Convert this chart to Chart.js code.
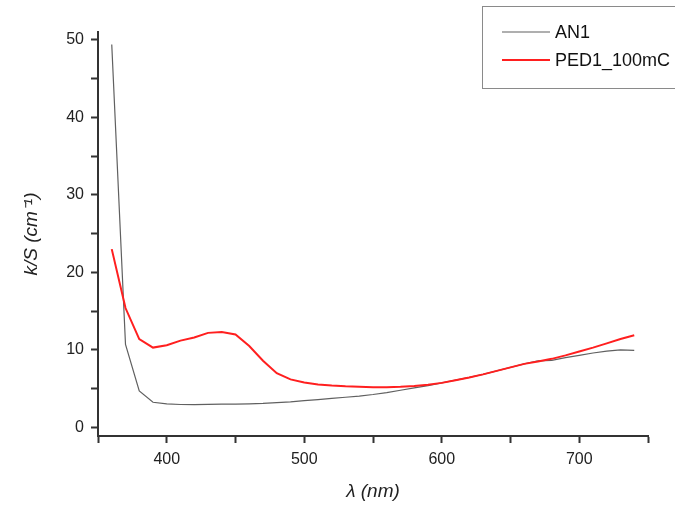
<!DOCTYPE html>
<html>
<head>
<meta charset="utf-8">
<script src="https://cdn.jsdelivr.net/npm/chart.js@4.4.1/dist/chart.umd.min.js"></script>
<style>
  html, body { margin: 0; padding: 0; background: #fff; }
  #wrap { width: 675px; height: 507px; }
</style>
</head>
<body>
<div id="wrap"><canvas id="ks"></canvas></div>
<script>
// wavelength (nm)
const wavelengths = [360,370,380,390,400,410,420,430,440,450,460,470,480,490,500,510,520,530,540,550,
                     560,570,580,590,600,610,620,630,640,650,660,670,680,690,700,710,720,730,740];
// k/S (cm-1)
const an1 = [49.4,10.7,4.7,3.25,3.05,2.96,2.95,2.97,3.0,3.02,3.05,3.1,3.2,3.3,3.45,3.6,3.75,3.9,4.05,4.25,
             4.5,4.8,5.1,5.4,5.75,6.1,6.45,6.85,7.3,7.75,8.2,8.6,8.65,9.0,9.3,9.6,9.85,10.0,9.95];
const ped1 = [23.0,15.4,11.4,10.3,10.6,11.2,11.6,12.2,12.3,12.0,10.5,8.6,7.0,6.2,5.8,5.55,5.4,5.3,5.25,5.2,
              5.2,5.25,5.35,5.5,5.75,6.1,6.45,6.85,7.3,7.75,8.2,8.5,8.85,9.3,9.8,10.3,10.85,11.4,11.9];
const seriesNames = ['AN1', 'PED1_100mC'];
const xTicks = [350,400,450,500,550,600,650,700,750];
const xLabels = [400,500,600,700];
const yTicks = [0,5,10,15,20,25,30,35,40,45,50];
const yLabels = [0,10,20,30,40,50];

const AXIS = '#333333';
const GRAY = '#606060';
const RED = '#ff1f1f';
const FONT = "'Liberation Sans Narrow', 'Liberation Sans', Arial, sans-serif";

const pts = (ys) => wavelengths.map((x, i) => ({ x, y: ys[i] }));

// boxed legend in the upper right corner
const boxLegend = {
  id: 'boxLegend',
  afterDraw(chart) {
    const ctx = chart.ctx;
    ctx.save();
    ctx.strokeStyle = '#8a8a8a';
    ctx.lineWidth = 1;
    ctx.strokeRect(482.5, 6.5, 200, 82);
    const rows = [[seriesNames[0], GRAY, 1.2, 32], [seriesNames[1], RED, 2, 60]];
    ctx.font = '18px ' + FONT;
    ctx.textBaseline = 'middle';
    ctx.fillStyle = '#111';
    rows.forEach(([label, color, w, y]) => {
      ctx.strokeStyle = color;
      ctx.lineWidth = w;
      ctx.beginPath();
      ctx.moveTo(502, y);
      ctx.lineTo(550, y);
      ctx.stroke();
      ctx.fillText(label, 555, y + 1);
    });
    ctx.restore();
  }
};

new Chart(document.getElementById('ks'), {
  type: 'line',
  data: {
    datasets: [
      { label: seriesNames[0], data: pts(an1), borderColor: GRAY, borderWidth: 1.2, pointRadius: 0, tension: 0, order: 1 },
      { label: seriesNames[1], data: pts(ped1), borderColor: RED, borderWidth: 2, pointRadius: 0, tension: 0, order: 0 }
    ]
  },
  options: {
    responsive: true,
    maintainAspectRatio: false,
    animation: false,
    layout: { padding: { top: 32, right: 27, left: 0, bottom: 0 } },
    plugins: { legend: { display: false }, tooltip: { enabled: false } },
    scales: {
      x: {
        type: 'linear',
        min: 350, max: 750,
        afterBuildTicks: (s) => { s.ticks = xTicks.map(v => ({ value: v })); },
        afterFit: (s) => { s.height = 71; },
        ticks: {
          color: '#222', font: { family: FONT, size: 16 }, padding: 7, maxRotation: 0, autoSkip: false,
          callback: (v) => xLabels.includes(v) ? String(v) : ''
        },
        grid: { display: true, drawOnChartArea: false, drawTicks: true, tickLength: 7, tickWidth: 2, tickColor: AXIS },
        border: { display: true, color: AXIS, width: 2 },
        title: { display: true, text: 'λ (nm)', color: '#222', font: { family: FONT, size: 19, style: 'italic' }, padding: { top: 0, bottom: 4 } }
      },
      y: {
        type: 'linear',
        min: -1.1, max: 51,
        afterBuildTicks: (s) => { s.ticks = yTicks.map(v => ({ value: v })); },
        afterFit: (s) => { s.width = 98; },
        ticks: {
          color: '#222', font: { family: FONT, size: 16 }, padding: 7, autoSkip: false,
          callback: (v) => yLabels.includes(v) ? String(v) : ''
        },
        grid: { display: true, drawOnChartArea: false, drawTicks: true, tickLength: 7, tickWidth: 2, tickColor: AXIS },
        border: { display: true, color: AXIS, width: 2 },
        title: { display: true, text: 'k/S (cm⁻¹)', color: '#222', font: { family: FONT, size: 19, style: 'italic' }, padding: { top: 20, bottom: 0 } }
      }
    }
  },
  plugins: [boxLegend]
});
</script>
</body>
</html>
